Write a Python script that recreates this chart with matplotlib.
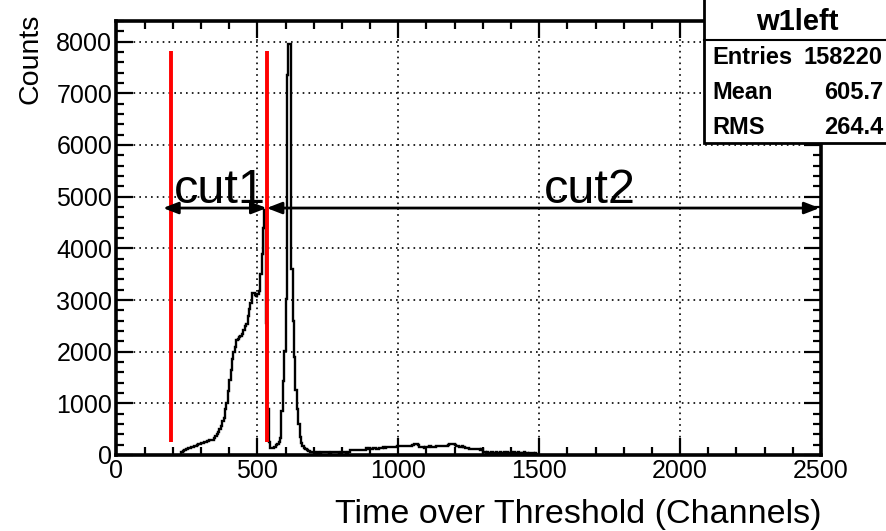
import matplotlib.pyplot as plt
import numpy as np
from matplotlib.ticker import MultipleLocator
from matplotlib.patches import Rectangle
from matplotlib.lines import Line2D

plt.rcParams['font.family'] = ['Liberation Sans', 'DejaVu Sans']

# Time over Threshold histogram (5 channel bins starting at channel 225)
tot_start = 225
bin_width = 5
counts = [
    0, 50, 80, 100, 110, 120, 140, 140, 150, 160,
    170, 180, 200, 210, 220, 230, 240, 250, 260, 270,
    280, 290, 300, 290, 330, 370, 400, 440, 500, 560,
    660, 720, 900, 1000, 1240, 1450, 1650, 1850, 2000, 2100,
    2220, 2250, 2280, 2300, 2350, 2420, 2490, 2540, 2700, 2820,
    2950, 3130, 3140, 3100, 3070, 3120, 3180, 3500, 3900, 4400,
    4750, 2560, 900, 250, 140, 140, 145, 150, 200, 210,
    250, 335, 850, 1430, 2010, 3010, 7350, 7950, 7950, 3600,
    2600, 1900, 1250, 900, 600, 350, 230, 170, 140, 110,
    90, 70, 60, 60, 55, 60, 40, 60, 60, 30,
    60, 55, 60, 60, 55, 60, 35, 60, 55, 60,
    60, 55, 60, 30, 60, 60, 55, 60, 35, 60,
    65, 90, 95, 90, 95, 90, 95, 100, 95, 90,
    95, 100, 130, 125, 130, 120, 125, 130, 140, 120,
    125, 135, 130, 140, 150, 145, 150, 155, 150, 155,
    150, 160, 155, 150, 170, 175, 170, 180, 175, 170,
    180, 175, 180, 170, 180, 200, 220, 215, 205, 185,
    160, 155, 160, 140, 160, 150, 160, 165, 150, 160,
    155, 160, 170, 165, 170, 175, 170, 165, 175, 180,
    200, 215, 220, 210, 215, 200, 175, 165, 160, 150,
    165, 150, 145, 140, 130, 125, 120, 125, 115, 110,
    120, 115, 110, 105, 110, 60, 50, 45, 50, 40,
    45, 50, 40, 45, 50, 45, 40, 50, 45, 40,
    50, 25, 50, 45, 20, 50, 45, 50, 20, 45,
    50, 40, 20, 45, 50, 40, 45, 20, 40, 30,
    30, 25, 30, 25, 0,
]
edges = tot_start + bin_width * np.arange(len(counts) + 1)

# cut markers
cut_lines = [193, 533]
cut_line_bottom = 250
cut_line_top = 7825
arrow_y = 4780
cut1_span = (165, 533)
cut2_span = (533, 2495)
cut_labels = ['cut1', 'cut2']
cut_label_x = [205, 1515]
cut_label_y = 4880

# stats box
hist_name = 'w1left'
stat_names = ['Entries', 'Mean', 'RMS']
stat_values = ['158220', '605.7', '264.4']

fig = plt.figure(figsize=(8.87, 5.31), dpi=100)
ax = fig.add_axes([116.5 / 887, 1 - 455 / 531, (821 - 116.5) / 887, (455 - 21) / 531])

ax.stairs(counts, edges, color='black', lw=1.7, zorder=3)
ax.set_xlim(0, 2500)
ax.set_ylim(0, 8400)

ax.xaxis.set_major_locator(MultipleLocator(500))
ax.xaxis.set_minor_locator(MultipleLocator(100))
ax.yaxis.set_major_locator(MultipleLocator(1000))
ax.yaxis.set_minor_locator(MultipleLocator(200))
ax.tick_params(which='both', direction='in', top=True, right=True, width=1.6,
               labelsize=18, pad=3)
ax.tick_params(which='major', length=12)
ax.tick_params(which='minor', length=6)
for s in ax.spines.values():
    s.set_linewidth(2.6)
ax.grid(which='major', color='black', ls=(0, (1, 2.5)), lw=1.2)

# red cut lines
ax.vlines(cut_lines, cut_line_bottom, cut_line_top, color='red', lw=2.8, zorder=4)

# arrows
arrow_kw = dict(arrowstyle='<|-|>,head_length=0.9,head_width=0.35', color='black',
                lw=2, shrinkA=0, shrinkB=0)
ax.annotate('', xy=(cut1_span[0], arrow_y), xytext=(cut1_span[1], arrow_y),
            arrowprops=arrow_kw, zorder=5)
ax.annotate('', xy=(cut2_span[0], arrow_y), xytext=(cut2_span[1], arrow_y),
            arrowprops=arrow_kw, zorder=5)
for lab, lx in zip(cut_labels, cut_label_x):
    ax.text(lx, cut_label_y, lab, fontsize=35, va='baseline', ha='left', zorder=6)

# axis titles, ROOT style (aligned to the axis end)
fig.text(822 / 887, 1 - 514 / 531, 'Time over Threshold (Channels)',
         ha='right', va='center', fontsize=24.5)
fig.text(31 / 887, 1 - 14 / 531, 'Counts', rotation=90, ha='center', va='top',
         fontsize=20.5)

# stats box
bx0, by0 = 704 / 887, 1 - 143 / 531
fig.add_artist(Rectangle((bx0, by0), 1.0, 1.0, transform=fig.transFigure,
                         facecolor='white', edgecolor='black', lw=2, zorder=10))
fig.add_artist(Line2D([bx0, 1.0], [1 - 40 / 531] * 2, transform=fig.transFigure,
                      color='black', lw=1.5, zorder=11))
fig.text(797 / 887, 1 - 22 / 531, hist_name, ha='center', va='center',
         fontsize=21, fontweight='bold', zorder=12)
for i, (n, v) in enumerate(zip(stat_names, stat_values)):
    yy = 1 - (58 + 34.5 * i) / 531
    fig.text(712 / 887, yy, n, ha='left', va='center', fontsize=17,
             fontweight='bold', zorder=12)
    fig.text(883 / 887, yy, v, ha='right', va='center', fontsize=17,
             fontweight='bold', zorder=12)

fig.savefig('out.png', dpi=100)
